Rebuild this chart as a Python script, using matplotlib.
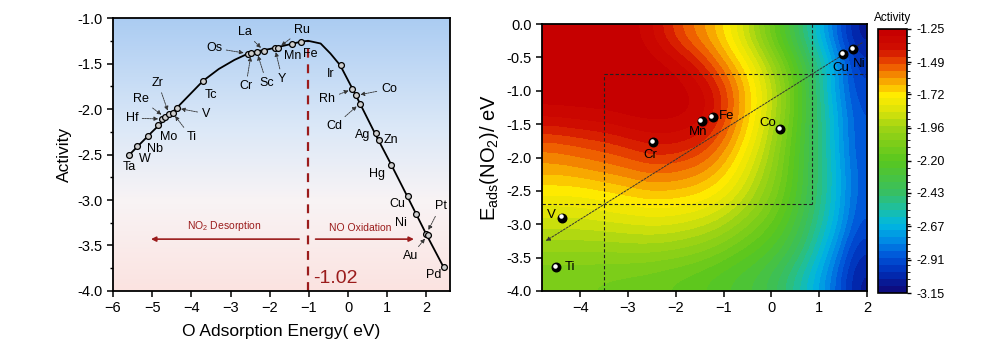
import numpy as np
import matplotlib
matplotlib.use('Agg')
import matplotlib.pyplot as plt
from matplotlib.colors import LinearSegmentedColormap, BoundaryNorm
from matplotlib.ticker import AutoMinorLocator
from matplotlib.transforms import offset_copy

plt.rcParams['font.family'] = ['Liberation Sans', 'DejaVu Sans']
plt.rcParams['mathtext.fontset'] = 'custom'
plt.rcParams['mathtext.rm'] = 'Liberation Sans'
plt.rcParams['mathtext.it'] = 'Liberation Sans:italic'

# ---------------- left panel: volcano plot ----------------
metals = ['Ta', 'W', 'Nb', 'Mo', 'Hf', 'Re', 'Zr', 'Ti', 'V', 'Tc', 'Os', 'Cr', 'Sc', 'La', 'Y',
          'Ru', 'Mn', 'Fe', 'Ir', 'Rh', 'Co', 'Cd', 'Ag', 'Zn', 'Hg', 'Cu', 'Ni', 'Pt', 'Au', 'Pd']
e_o = [-5.60, -5.39, -5.11, -4.85, -4.74, -4.68, -4.57, -4.48, -4.37, -3.71, -2.56, -2.47, -2.33, -2.15, -1.87,
       -1.79, -1.44, -1.21, -0.19, 0.11, 0.21, 0.30, 0.70, 0.78, 1.10, 1.52, 1.74, 2.00, 2.03, 2.44]
activity = [-2.51, -2.41, -2.30, -2.18, -2.11, -2.09, -2.06, -2.04, -1.99, -1.69, -1.39, -1.38, -1.37, -1.36, -1.33,
            -1.33, -1.28, -1.26, -1.52, -1.78, -1.85, -1.94, -2.26, -2.34, -2.61, -2.96, -3.15, -3.37, -3.39, -3.74]
# where each label sits, and whether it points to its marker
label_x = [-5.58, -5.20, -4.92, -4.58, -5.52, -5.29, -4.85, -4.00, -3.63, -3.50, -3.42, -2.61, -2.08, -2.64, -1.68,
           -1.18, -1.42, -0.97, -0.45, -0.53, 1.04, -0.36, 0.36, 1.10, 0.74, 1.25, 1.35, 2.36, 1.59, 2.18]
label_y = [-2.64, -2.55, -2.44, -2.31, -2.10, -1.89, -1.71, -2.31, -2.05, -1.85, -1.33, -1.75, -1.71, -1.15, -1.67,
           -1.13, -1.42, -1.39, -1.61, -1.89, -1.78, -2.19, -2.29, -2.34, -2.71, -3.04, -3.25, -3.07, -3.62, -3.82]
pointer = ['Hf', 'Re', 'Zr', 'Ti', 'V', 'Os', 'Cr', 'Sc', 'La', 'Y', 'Ru', 'Rh', 'Co', 'Cd', 'Pt', 'Au']

# fitted volcano curve
curve_x = [-5.60, -5.00, -4.40, -3.70, -3.30, -2.90, -2.50, -2.00, -1.50, -1.20, -1.02, -0.70, -0.45, -0.20,
           0.20, 0.70, 1.10, 1.50, 2.00, 2.44]
curve_y = [-2.51, -2.25, -2.00, -1.69, -1.56, -1.46, -1.38, -1.34, -1.29, -1.26, -1.25, -1.28, -1.39, -1.52,
           -1.85, -2.28, -2.61, -2.95, -3.38, -3.74]
peak_x = -1.02

# ---------------- right panel: activity map ----------------
map_extent = [-4.8, 2.0, -4.0, 0.0]
# rows from y=-0.2 (top) to y=-3.8, columns from x=-4.6 to 1.8 in steps of 0.4
activity_map = [
    [-1.25, -1.25, -1.25, -1.25, -1.27, -1.32, -1.42, -1.52, -1.60, -1.70, -1.85, -2.03, -2.22, -2.42, -2.65, -2.88, -3.08],
    [-1.25, -1.25, -1.25, -1.25, -1.25, -1.26, -1.29, -1.35, -1.45, -1.58, -1.70, -1.86, -2.05, -2.27, -2.50, -2.75, -2.98],
    [-1.25, -1.25, -1.25, -1.25, -1.25, -1.25, -1.25, -1.28, -1.33, -1.45, -1.62, -1.78, -1.98, -2.20, -2.50, -2.75, -2.94],
    [-1.34, -1.33, -1.32, -1.31, -1.29, -1.28, -1.28, -1.29, -1.33, -1.46, -1.63, -1.80, -2.00, -2.22, -2.47, -2.70, -2.90],
    [-1.52, -1.50, -1.48, -1.46, -1.43, -1.40, -1.39, -1.41, -1.46, -1.56, -1.70, -1.86, -2.05, -2.25, -2.47, -2.70, -2.90],
    [-1.63, -1.62, -1.60, -1.58, -1.56, -1.53, -1.53, -1.55, -1.59, -1.67, -1.79, -1.93, -2.08, -2.26, -2.46, -2.67, -2.88],
    [-1.76, -1.76, -1.75, -1.73, -1.71, -1.69, -1.69, -1.70, -1.73, -1.79, -1.88, -2.00, -2.12, -2.28, -2.47, -2.67, -2.88],
    [-1.88, -1.88, -1.87, -1.86, -1.85, -1.84, -1.84, -1.86, -1.89, -1.94, -2.02, -2.10, -2.20, -2.34, -2.52, -2.70, -2.91],
    [-2.00, -2.00, -2.00, -2.00, -1.99, -1.99, -2.00, -2.02, -2.05, -2.10, -2.16, -2.22, -2.30, -2.42, -2.60, -2.80, -3.00],
    [-2.10, -2.10, -2.10, -2.11, -2.12, -2.13, -2.15, -2.17, -2.20, -2.24, -2.28, -2.33, -2.42, -2.55, -2.70, -2.88, -3.07],
]
map_metals = ['Cr', 'Mn', 'Fe', 'Co', 'Cu', 'Ni', 'V', 'Ti']
map_x = [-2.48, -1.46, -1.23, 0.19, 1.50, 1.71, -4.38, -4.50]
map_y = [-1.77, -1.45, -1.39, -1.57, -0.45, -0.37, -2.90, -3.64]
map_lx = [-2.53, -1.54, -0.93, -0.08, 1.45, 1.84, -4.60, -4.22]
map_ly = [-1.96, -1.61, -1.38, -1.48, -0.66, -0.60, -2.86, -3.64]
cbar_ticks = [-1.25, -1.49, -1.72, -1.96, -2.20, -2.43, -2.67, -2.91, -3.15]
# guide box lines
box_x = [-3.5, 0.85]
box_y = [-2.7, -0.75]
diag_start = (1.9, -0.28)
diag_end = (-4.72, -3.25)

dred = '#9b1c1c'

fig = plt.figure(figsize=(9.99, 3.54), dpi=100)
ax1 = fig.add_axes([0.1131, 0.178, 0.3373, 0.771])
ax2 = fig.add_axes([0.5425, 0.178, 0.3253, 0.754])
cax = fig.add_axes([0.8789, 0.1723, 0.029, 0.7458])

# --- left panel
bg = LinearSegmentedColormap.from_list('bg', [(0.0, (0.985, 0.89, 0.88)), (0.33, (0.975, 0.955, 0.96)),
                                              (0.6, (0.86, 0.91, 0.97)), (1.0, (0.67, 0.80, 0.95))])
ax1.imshow(np.linspace(0, 1, 256).reshape(-1, 1), extent=[0, 1, 0, 1], transform=ax1.transAxes,
           cmap=bg, origin='lower', aspect='auto', zorder=0)
ax1.plot(curve_x, curve_y, color='black', lw=1.3, zorder=2)
ax1.plot(e_o, activity, 'o', ms=4.2, mfc='#cfcfcf', mec='black', mew=0.9, zorder=3)
for m, lx, ly, px, py in zip(metals, label_x, label_y, e_o, activity):
    if m in pointer:
        ax1.annotate(m, xy=(px, py), xytext=(lx, ly), ha='center', va='center', fontsize=9, zorder=4,
                     arrowprops=dict(arrowstyle='-|>', color='#333333', lw=0.6, ls=(0, (2, 1)),
                                     mutation_scale=6, shrinkA=1, shrinkB=3))
    else:
        ax1.text(lx, ly, m, ha='center', va='center', fontsize=9, zorder=4)

ax1.plot([peak_x, peak_x], [-4.0, curve_y[curve_x.index(peak_x)]], color=dred, lw=1.6, ls=(0, (4, 3)), zorder=1)
ax1.text(-0.32, -3.86, '-1.02', color=dred, fontsize=14, ha='center', va='center')
ax1.annotate('', xy=(-5.03, -3.43), xytext=(-1.25, -3.43),
             arrowprops=dict(arrowstyle='-|>', color=dred, lw=1.2, mutation_scale=7, shrinkA=0, shrinkB=0))
ax1.annotate('', xy=(1.68, -3.43), xytext=(-0.83, -3.43),
             arrowprops=dict(arrowstyle='-|>', color=dred, lw=1.2, mutation_scale=7, shrinkA=0, shrinkB=0))
ax1.text(-3.16, -3.29, 'NO$_2$ Desorption', color=dred, fontsize=7.5, ha='center', va='center')
ax1.text(0.30, -3.31, 'NO Oxidation', color=dred, fontsize=7.5, ha='center', va='center')

ax1.set_xlim(-6, 2.6)
ax1.set_ylim(-4, -1)
ax1.set_xticks(range(-6, 3))
ax1.set_yticks(np.arange(-4.0, -0.99, 0.5))
ax1.yaxis.set_minor_locator(AutoMinorLocator(2))
ax1.yaxis.set_major_formatter(plt.FormatStrFormatter('%.1f'))
ax1.tick_params(labelsize=10.5, width=1.1, length=4)
ax1.tick_params(which='minor', width=1.0, length=2.5)
ax1.set_xlabel('O Adsorption Energy( eV)', fontsize=12.5, labelpad=6)
ax1.set_ylabel('Activity', fontsize=12.5)
for s in ax1.spines.values():
    s.set_linewidth(1.3)

# --- right panel
cmap = LinearSegmentedColormap.from_list('act', [
    (0.0, (0.05, 0.05, 0.50)), (0.063, (0.0, 0.18, 0.72)), (0.126, (0.0, 0.33, 0.85)),
    (0.19, (0.0, 0.55, 0.90)), (0.253, (0.0, 0.72, 0.88)), (0.316, (0.12, 0.75, 0.62)),
    (0.379, (0.22, 0.75, 0.38)), (0.5, (0.35, 0.78, 0.12)), (0.626, (0.62, 0.83, 0.08)),
    (0.69, (0.85, 0.89, 0.04)), (0.753, (1.0, 0.92, 0.0)), (0.816, (0.97, 0.62, 0.0)),
    (0.874, (0.93, 0.32, 0.0)), (0.932, (0.82, 0.06, 0.0)), (1.0, (0.78, 0.0, 0.0))])
cmap = cmap.with_extremes(over=(0.78, 0.0, 0.0), under=(0.05, 0.05, 0.5))
norm = BoundaryNorm(np.linspace(-3.15, -1.25, 39), cmap.N)
im = ax2.imshow(np.array(activity_map), extent=map_extent, origin='upper', cmap=cmap, norm=norm,
                interpolation='bicubic', interpolation_stage='data', aspect='auto', zorder=0)

ax2.plot([box_x[0], box_x[0]], [-4.0, box_y[1]], color='#222222', lw=0.8, ls=(0, (3, 2)))
ax2.plot([box_x[0], 2.0], [box_y[1], box_y[1]], color='#222222', lw=0.8, ls=(0, (3, 2)))
ax2.plot([box_x[1], box_x[1]], [0.0, box_y[0]], color='#222222', lw=0.8, ls=(0, (3, 2)))
ax2.plot([-4.8, box_x[1]], [box_y[0], box_y[0]], color='#222222', lw=0.8, ls=(0, (3, 2)))
ax2.annotate('', xy=diag_end, xytext=diag_start,
             arrowprops=dict(arrowstyle='-|>', color='#333333', lw=0.7, ls=(0, (2, 1.5)),
                             mutation_scale=6, shrinkA=0, shrinkB=0))

ax2.scatter(map_x, map_y, s=38, color='black', zorder=3)
hl = offset_copy(ax2.transData, fig=fig, x=-0.8, y=0.8, units='points')
ax2.scatter(map_x, map_y, s=5, color='white', transform=hl, zorder=4)
for m, lx, ly in zip(map_metals, map_lx, map_ly):
    ax2.text(lx, ly, m, fontsize=9.5, ha='center', va='center', zorder=5)

ax2.set_xlim(-4.8, 2.0)
ax2.set_ylim(-4.0, 0.0)
ax2.set_xticks(range(-4, 3))
ax2.set_yticks(np.arange(-4.0, 0.01, 0.5))
ax2.yaxis.set_major_formatter(plt.FormatStrFormatter('%.1f'))
ax2.tick_params(labelsize=10.5, width=1.1, length=4)
ax2.set_ylabel(r'E$_{\rm ads}$(NO$_2$)/ eV', fontsize=14.5, labelpad=4)
for s in ax2.spines.values():
    s.set_linewidth(1.3)

cb = fig.colorbar(im, cax=cax, ticks=cbar_ticks, format='%.2f')
cb.outline.set_linewidth(1.2)
cb.ax.tick_params(labelsize=9, width=1.0, length=3)
cax.set_title('Activity', fontsize=8.5, pad=6)

fig.savefig('out.png', dpi=100)
